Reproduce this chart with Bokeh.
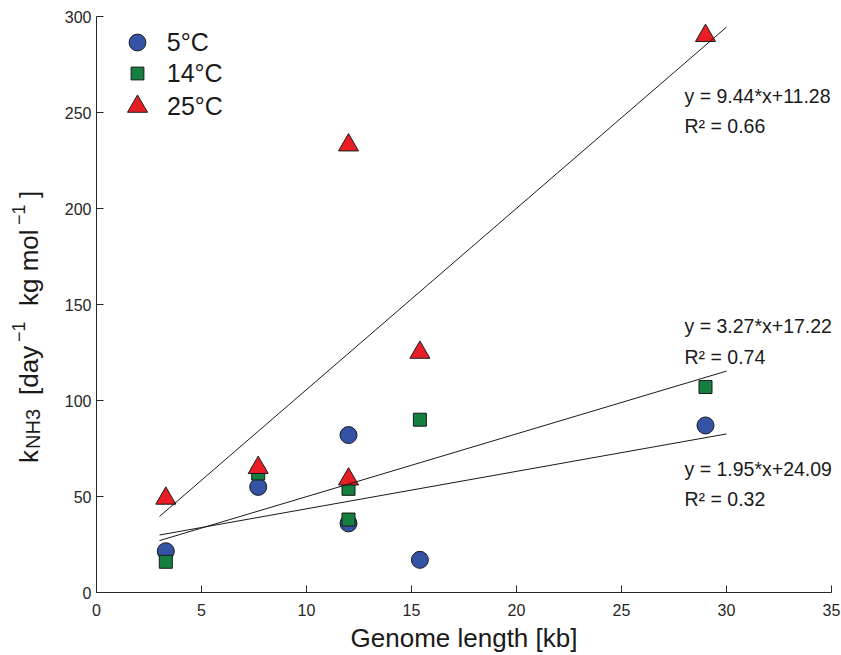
import numpy as np
from bokeh.plotting import figure
from bokeh.layouts import row
from bokeh.models import Label, FixedTicker, Range1d, Legend, LegendItem, Div
from bokeh.embed import file_html
from bokeh.resources import INLINE

# ---------------- data ----------------
genome_kb = [3.3, 7.7, 12.0, 12.0, 15.4, 29.0]
k_5C = [21.5, 55, 82, 36, 17, 87]
k_14C = [16, 62, 54, 38, 90, 107]
k_25C = [49, 65, 59, 233, 125, 290]

series_names = ["5°C", "14°C", "25°C"]
fit_slopes = [1.95, 3.27, 9.44]
fit_intercepts = [24.09, 17.22, 11.28]
fit_r2 = [0.32, 0.74, 0.66]
fit_x = [3.0, 30.0]

x_ticks = [0, 5, 10, 15, 20, 25, 30, 35]
y_ticks = [0, 50, 100, 150, 200, 250, 300]

FONT = "Liberation Sans"
INK = "#1a1a1a"
H = 655
LEFT_W = 46

# ---------------- y-axis title (rotated text with sub/superscripts) ----------------
# (text, baseline x in px, start y in px from top, font size in px)
ylab_pieces = [
    ("k", 38, 463, 26),
    ("NH3", 40, 449, 20),
    ("[day", 38, 395, 26),
    ("−1", 25.5, 342, 18),
    ("kg mol", 38, 306, 26),
    ("−1", 25.5, 225, 18),
    ("]", 38, 198, 26),
]
spans = []
for txt, bx, sy, fs in ylab_pieces:
    left = bx - 0.8465 * fs
    spans.append(
        f'<div style="position:absolute;left:{left:.1f}px;top:{sy}px;'
        f'transform-origin:0 0;transform:rotate(-90deg);'
        f"font-family:'{FONT}';font-size:{fs}px;line-height:{fs}px;"
        f'white-space:nowrap;color:{INK};">{txt}</div>'
    )
ylab = Div(text=f'<div style="position:relative;width:{LEFT_W}px;height:{H}px;">'
                + "".join(spans) + "</div>",
           width=LEFT_W, height=H, margin=0)

# ---------------- main chart ----------------
p = figure(width=841 - LEFT_W, height=H, x_range=Range1d(0, 35), y_range=Range1d(0, 300),
           output_backend="svg", toolbar_location=None,
           min_border_left=96 - LEFT_W, min_border_right=10, min_border_top=16,
           min_border_bottom=60)
p.grid.visible = False
p.outline_line_color = None
p.background_fill_color = "white"
p.border_fill_color = "white"

for ax, ticks in ((p.xaxis, x_ticks), (p.yaxis, y_ticks)):
    ax.ticker = FixedTicker(ticks=ticks)
    ax.major_tick_in = 7
    ax.major_tick_out = 0
    ax.minor_tick_line_color = None
    ax.axis_line_color = "#262626"
    ax.major_tick_line_color = "#262626"
    ax.major_label_text_font = FONT
    ax.major_label_text_font_size = "16px"
    ax.major_label_text_color = "#262626"

p.xaxis.major_label_standoff = 11
p.yaxis.major_label_standoff = 5
p.xaxis.axis_label = "Genome length [kb]"
p.xaxis.axis_label_text_font = FONT
p.xaxis.axis_label_text_font_size = "26px"
p.xaxis.axis_label_text_font_style = "normal"
p.xaxis.axis_label_text_color = INK
p.xaxis.axis_label_standoff = 4

# markers
r5 = p.scatter(genome_kb, k_5C, marker="circle", size=17, fill_color="#3553A5",
               line_color=INK, line_width=1)
r14 = p.scatter(genome_kb, k_14C, marker="square", size=13, fill_color="#157F3F",
                line_color=INK, line_width=1)
r25 = p.scatter(genome_kb, k_25C, marker="triangle", size=20, fill_color="#E91E25",
                line_color=INK, line_width=1)

# regression lines
for s, b in zip(fit_slopes, fit_intercepts):
    p.line(fit_x, [s * xx + b for xx in fit_x], line_color=INK, line_width=1)

# equation annotations
eq_pos = [(28.0, 64.4, 48.5), (28.0, 138.6, 122.7), (28.0, 258.6, 243.0)]
for (ex, ey1, ey2), s, b, r in zip(eq_pos, fit_slopes, fit_intercepts, fit_r2):
    p.add_layout(Label(x=ex, y=ey1, text=f"y = {s:.2f}*x+{b:.2f}", text_font=FONT,
                       text_font_size="19.5px", text_color=INK, text_baseline="alphabetic"))
    p.add_layout(Label(x=ex, y=ey2, text=f"R² = {r:.2f}", text_font=FONT,
                       text_font_size="19.5px", text_color=INK, text_baseline="alphabetic"))

# legend: one small legend per series so each marker keeps its own size
legend_specs = [
    (series_names[0], r5, 17, 8.75, (19.75, 528.75)),
    (series_names[1], r14, 13, 13.75, (24.75, 502.75)),
    (series_names[2], r25, 20, 5.0, (16.0, 461.0)),
]
for name, rend, size, standoff, loc in legend_specs:
    box = size / 0.4
    lg = Legend(items=[LegendItem(label=name, renderers=[rend])], location=loc,
                margin=0, padding=0, glyph_width=int(round(box)), glyph_height=int(round(box)),
                label_height=int(round(box)), label_standoff=int(round(standoff)),
                label_text_font=FONT, label_text_font_size="25px", label_text_color=INK,
                border_line_color=None, background_fill_alpha=0)
    p.add_layout(lg, "center")

layout = row(ylab, p)
open("out.html", "w").write(file_html(layout, INLINE))
